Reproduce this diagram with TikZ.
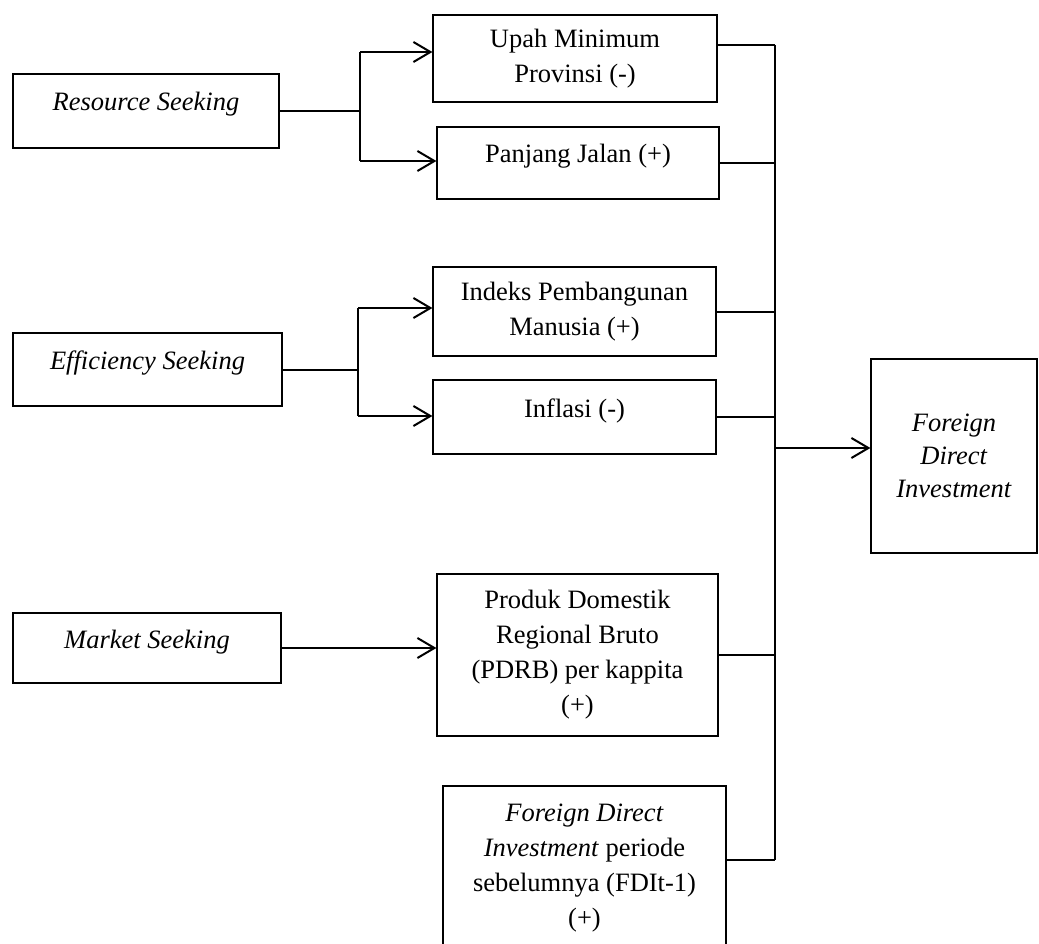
\documentclass[tikz,border=0pt]{standalone}
\usepackage{fontspec}
\setmainfont{Liberation Serif}
\usepackage{tikz}
\usetikzlibrary{arrows.meta,positioning,calc}

\begin{document}
\begin{tikzpicture}[
  x=1pt,y=-1pt,
  every node/.style={font=\fontsize{26.5}{35}\selectfont,align=center},
  factor/.style={draw=black,line width=1.2pt,fill=white,inner sep=0pt},
  upper/.style={text height=17pt,text depth=17pt},
  link/.style={line width=2pt,color=black},
  arrow/.style={link,-{Straight Barb[length=17pt,width=20pt,line width=2pt]}}
]
\clip (0,0) rectangle (1039,944);
% motives
\node[factor,upper,minimum width=266,minimum height=74] (rs) at (146,111) {\textit{Resource Seeking}};
\node[factor,upper,minimum width=269,minimum height=73] (es) at (147.5,369.5) {\textit{Efficiency Seeking}};
\node[factor,upper,minimum width=268,minimum height=70] (ms) at (147,648) {\textit{Market Seeking}};
% variables
\node[factor,minimum width=284,minimum height=87] (upah) at (575,58.5) {Upah Minimum\\Provinsi (-)};
\node[factor,upper,minimum width=282,minimum height=72] (jalan) at (578,163) {Panjang Jalan (+)};
\node[factor,minimum width=283,minimum height=89] (ipm) at (574.5,311.5) {Indeks Pembangunan\\Manusia (+)};
\node[factor,upper,minimum width=283,minimum height=74] (infl) at (574.5,417) {Inflasi (-)};
\node[factor,minimum width=281,minimum height=162] (pdrb) at (577.5,655) {Produk Domestik\\Regional Bruto\\(PDRB) per kappita\\(+)};
\node[factor,minimum width=283,minimum height=164] (lag) at (584.5,868) {\textit{Foreign Direct}\\\textit{Investment} periode\\sebelumnya (FDIt-1)\\(+)};
% target
\node[factor,minimum width=166,minimum height=194,font=\fontsize{26.5}{33}\selectfont] (fdi) at (954,456) {\textit{Foreign}\\\textit{Direct}\\\textit{Investment}};
% forks on the left
\coordinate (rsup) at (360,52);
\coordinate (rsdown) at (360,161);
\coordinate (esup) at (358,308);
\coordinate (esdown) at (358,416);
\draw[link] (rs.east) -- (rs.east -| rsup);
\draw[link] (rsup) -- (rsdown);
\draw[arrow] (rsup) -- (rsup -| upah.west);
\draw[arrow] (rsdown) -- (rsdown -| jalan.west);
\draw[link] (es.east) -- (es.east -| esup);
\draw[link] (esup) -- (esdown);
\draw[arrow] (esup) -- (esup -| ipm.west);
\draw[arrow] (esdown) -- (esdown -| infl.west);
\draw[arrow] (ms.east) -- (ms.east -| pdrb.west);
% collecting bus on the right
\coordinate (bustop) at (775,45);
\coordinate (busbot) at (775,860);
\coordinate (busout) at (775,448);
\draw[link] (bustop) -- (busbot);
\draw[link] (upah.east |- bustop) -- (bustop);
\draw[link] (jalan.east) -- (jalan.east -| bustop);
\draw[link] (ipm.east) -- (ipm.east -| bustop);
\draw[link] (infl.east) -- (infl.east -| bustop);
\draw[link] (pdrb.east) -- (pdrb.east -| bustop);
\draw[link] (lag.east |- busbot) -- (busbot);
\draw[arrow] (busout) -- (busout -| fdi.west);
\end{tikzpicture}
\end{document}
